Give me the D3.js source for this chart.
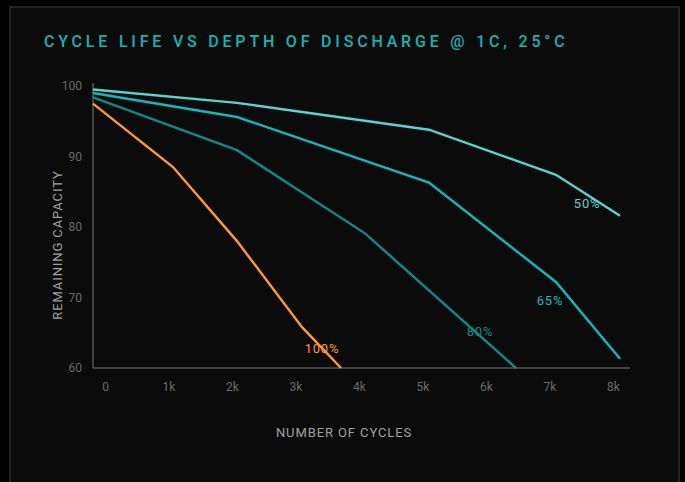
<!DOCTYPE html>
<html>
<head>
<meta charset="utf-8">
<script src="https://cdn.jsdelivr.net/npm/d3@7"></script>
<style>
  html, body { margin: 0; padding: 0; background: #000; }
  svg { display: block; font-family: Roboto, "Open Sans", sans-serif; }
</style>
</head>
<body>
<div class="canvas"></div>
<script>
// cycle life data, remaining capacity (%) by depth of discharge
const dod50 = [[0, 99.5], [2186, 97.6], [5100, 93.8], [7028, 87.4], [8000, 81.6]]
const dod65 = [[0, 99.0], [2186, 95.6], [5100, 86.3], [7028, 72.2], [8000, 61.3]]
const dod80 = [[0, 98.4], [2186, 90.9], [4129, 79.1], [6421, 60.0]]
const dod100 = [[0, 97.5], [1214, 88.5], [2186, 78.0], [3173, 65.8], [3765, 60.0]]

const xTickLabels = ['0', '1k', '2k', '3k', '4k', '5k', '6k', '7k', '8k']
const yTicks = [60, 70, 80, 90, 100]

const series = [
  { name: '50%', data: dod50, color: '#5ad3cd', label: [7500, 82.7] },
  { name: '65%', data: dod65, color: '#14b8b8', label: [6937, 68.9] },
  { name: '80%', data: dod80, color: '#0f8a86', label: [5875, 64.5] },
  { name: '100%', data: dod100, color: '#ff9933', label: [3476, 62.1] },
]

const W = 685, H = 482
const svg = d3.select('.canvas')
  .append('svg')
  .attr('width', W)
  .attr('height', H)

svg.append('rect')
  .attr('x', 10).attr('y', 7)
  .attr('width', 669).attr('height', 500)
  .attr('fill', '#0b0b0b')
  .attr('stroke', '#242424')
  .attr('stroke-width', 2)

svg.append('text')
  .attr('x', 44).attr('y', 47)
  .attr('fill', '#17b3b3')
  .attr('font-size', 16)
  .attr('font-weight', 500)
  .attr('letter-spacing', 3.8)
  .text('CYCLE LIFE VS DEPTH OF DISCHARGE @ 1C, 25°C')

const x = d3.scaleLinear().domain([0, 8000]).range([93, 620])
const y = d3.scaleLinear().domain([60, 100]).range([368, 86])
// tick labels sit on their own evenly spaced slots
const xLab = d3.scalePoint().domain(xTickLabels).range([105, 613])

// axes
svg.append('line')
  .attr('x1', 93).attr('x2', 93)
  .attr('y1', 83).attr('y2', y(60))
  .attr('stroke', '#555').attr('stroke-width', 1.5)
svg.append('line')
  .attr('x1', 93).attr('x2', 630)
  .attr('y1', y(60)).attr('y2', y(60))
  .attr('stroke', '#555').attr('stroke-width', 1.5)

const yAxis = d3.axisLeft(y).tickValues(yTicks).tickSize(0).tickPadding(11)
const yAxisGroup = svg.append('g').attr('transform', 'translate(93,0)').call(yAxis)
yAxisGroup.select('.domain').remove()
yAxisGroup.selectAll('text')
  .attr('fill', '#6a6a6a')
  .attr('font-size', 12)
  .attr('font-family', 'Roboto, sans-serif')

const xAxis = d3.axisBottom(xLab).tickSize(0).tickPadding(14)
const xAxisGroup = svg.append('g').attr('transform', `translate(0, ${y(60)})`).call(xAxis)
xAxisGroup.select('.domain').remove()
xAxisGroup.selectAll('text')
  .attr('fill', '#6a6a6a')
  .attr('font-size', 12)
  .attr('font-family', 'Roboto, sans-serif')

// axis titles
svg.append('text')
  .attr('x', 344).attr('y', 437)
  .attr('text-anchor', 'middle')
  .attr('fill', '#a0a0a0')
  .attr('font-size', 13)
  .attr('letter-spacing', 0.9)
  .text('NUMBER OF CYCLES')

svg.append('text')
  .attr('transform', 'translate(62, 245) rotate(-90)')
  .attr('text-anchor', 'middle')
  .attr('fill', '#a0a0a0')
  .attr('font-size', 13)
  .attr('letter-spacing', 0.9)
  .text('REMAINING CAPACITY')

const line = d3.line().x(d => x(d[0])).y(d => y(d[1]))

svg.selectAll('path.series')
  .data(series)
  .enter()
  .append('path')
  .attr('class', 'series')
  .attr('d', d => line(d.data))
  .attr('fill', 'none')
  .attr('stroke', d => d.color)
  .attr('stroke-width', 2.4)

svg.selectAll('text.lbl')
  .data(series)
  .enter()
  .append('text')
  .attr('class', 'lbl')
  .attr('x', d => x(d.label[0]))
  .attr('y', d => y(d.label[1]))
  .attr('text-anchor', 'middle')
  .attr('fill', d => d.color)
  .attr('font-size', 13)
  .attr('letter-spacing', 0.8)
  .text(d => d.name)
</script>
</body>
</html>
